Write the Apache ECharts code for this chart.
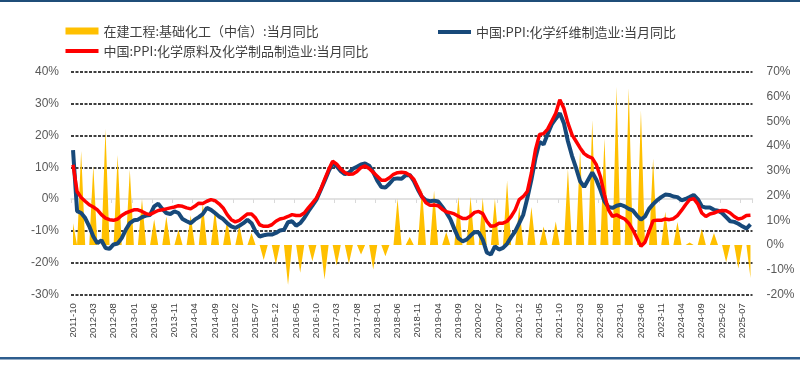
<!DOCTYPE html>
<html><head><meta charset="utf-8">
<script src="https://cdn.jsdelivr.net/npm/echarts@6/dist/echarts.min.js"></script>
<style>html,body{margin:0;padding:0;background:#fff}#c{width:800px;height:368px}</style>
</head><body><div id="c"></div>
<script>
// Monthly categories 2011-10 .. 2025-09
const months = [];
for (let k = 0; k < 168; k++) {
  const t = 2011 * 12 + 9 + k;
  months.push(Math.floor(t / 12) + '-' + String(t % 12 + 1).padStart(2, '0'));
}

// 在建工程:基础化工（中信）:当月同比 (right axis, %), reported quarterly
const capexDates = ['2011-10','2011-12',
  '2012-03','2012-06','2012-09','2012-12','2013-03','2013-06','2013-09','2013-12',
  '2014-03','2014-06','2014-09','2014-12','2015-03','2015-06','2015-09','2015-12',
  '2016-03','2016-06','2016-09','2016-12','2017-03','2017-06','2017-09','2017-12',
  '2018-03','2018-06','2018-09','2018-12','2019-03','2019-06','2019-09','2019-12',
  '2020-03','2020-06','2020-09','2020-12','2021-03','2021-06','2021-09','2021-12',
  '2022-03','2022-06','2022-09','2022-12','2023-03','2023-06','2023-09','2023-12',
  '2024-03','2024-06','2024-09','2024-12','2025-03','2025-06','2025-09'];
const capexYoY = [8.8, 38,
  32, 47, 36.4, 30.4, 18.7, 10.4, 11.5, 6.1,
  12, 17, 14.5, 10.2, 8, 4.8, -6.1, -7.8,
  -16.2, -11.3, -6.6, -14, -8.3, -7.6, -3.9, -10,
  -4.6, 18.7, 3.2, 23, 22, 5.2, 19.4, 19.4,
  19, 18.7, 26, 15.5, 15.3, 7.5, 9.5, 30.8,
  38.5, 50.6, 43.2, 64, 63.5, 54.5, 35, 13.4,
  9.3, 1, 6.4, 4.8, -7, -9.6, -13.4];

// 中国:PPI:化学纤维制造业:当月同比 (left axis, %)
const fiberPPI = [
  15.4, -3.8, -4.4, -6.0, -8.6, -11.8, -13.9, -13.0, -15.4, -15.7,
  -14.3, -14.0, -12.3, -9.7, -7.6, -6.7, -6.5, -5.7, -5.2, -5.0,
  -2.3, -1.5, -3.1, -4.4, -4.7, -3.9, -4.4, -6.3, -7.0, -7.6,
  -6.5, -5.7, -4.7, -2.8, -3.4, -4.4, -5.5, -6.3, -7.6, -8.6,
  -9.1, -8.4, -7.6, -6.5, -7.6, -10.2, -11.8, -11.4, -11.2, -11.2,
  -10.7, -9.9, -9.7, -7.3, -7.0, -8.4, -7.6, -6.0, -3.9, -2.1,
  -0.2, 2.7, 5.6, 8.7, 11.3, 10.3, 8.8, 7.8, 8.3, 9.5,
  10.2, 10.9, 11.2, 10.5, 8.5, 5.8, 3.8, 3.6, 4.8, 6.3,
  6.5, 6.4, 7.5, 7.6, 5.7, 3.0, 0.7, -0.4, -0.7, -0.5,
  -0.8, -2.4, -4.2, -6.3, -9.4, -12.3, -13.3, -12.8, -11.5, -10.4,
  -10.5, -12.8, -16.8, -17.5, -14.9, -15.9, -15.4, -14.1, -12.0, -10.2,
  -7.6, -4.9, 0.3, 6.1, 12.9, 18.0, 17.2, 20.5, 23.5, 25.3,
  27.0, 23.9, 18.2, 13.6, 9.8, 5.6, 3.8, 6.1, 8.4, 6.1,
  2.9, -0.7, -2.5, -2.8, -2.1, -1.8, -2.3, -3.1, -3.6, -5.2,
  -6.5, -5.5, -3.1, -1.6, -0.4, 0.6, 1.4, 1.3, 0.8, 0.6,
  -0.4, 0.0, 0.6, 1.3, 0.0, -2.3, -2.7, -2.7, -3.4, -3.7,
  -4.4, -5.7, -7.0, -7.2, -7.8, -8.6, -9.3, -8.0];

// 中国:PPI:化学原料及化学制品制造业:当月同比 (left axis, %)
const chemPPI = [
  10.8, 2.4, 0.5, -0.7, -1.8, -2.5, -3.4, -4.9, -6.0, -6.5,
  -6.7, -6.3, -5.2, -4.4, -3.9, -3.4, -3.4, -3.9, -4.6, -4.9,
  -4.2, -3.6, -3.4, -3.1, -2.8, -2.5, -2.1, -2.3, -2.8, -3.1,
  -2.3, -1.3, -1.4, -0.7, -0.2, -0.5, -1.5, -2.8, -4.9, -6.5,
  -7.2, -6.7, -5.7, -4.7, -4.7, -6.0, -8.1, -8.6, -8.6, -8.1,
  -7.0, -6.3, -6.0, -5.5, -4.9, -5.2, -5.2, -4.4, -2.8, -1.3,
  0.3, 2.9, 6.1, 9.2, 11.9, 11.0, 9.4, 8.3, 7.8, 7.9,
  8.7, 9.9, 10.4, 9.6, 8.4, 7.2, 5.9, 5.9, 6.7, 7.8,
  8.3, 8.4, 8.3, 7.5, 6.2, 3.6, 0.8, -1.2, -2.0, -1.9,
  -2.1, -3.2, -4.0, -4.3, -4.7, -5.4, -6.1, -6.1, -5.3, -4.2,
  -3.9, -4.6, -7.0, -8.6, -8.4, -7.6, -7.6, -7.0, -5.5, -3.4,
  -0.2, 0.8, 2.4, 8.2, 15.5, 20.3, 20.6, 22.0, 24.5, 27.0,
  31.3, 28.6, 23.9, 20.3, 18.2, 16.1, 14.3, 13.4, 12.9, 10.8,
  7.1, 1.4, -3.4, -5.5, -5.0, -5.7, -6.3, -7.6, -9.7, -12.3,
  -14.9, -13.6, -10.2, -6.8, -6.7, -6.7, -6.3, -6.5, -6.2, -5.2,
  -3.6, -1.8, -0.2, 0.1, -1.5, -4.4, -5.5, -4.7, -4.4, -3.9,
  -3.6, -3.7, -4.4, -5.5, -6.3, -6.0, -5.2, -5.1];

const leftTicks = { min: -30, max: 40, interval: 10 };
const rightTicks = { min: -20, max: 70, interval: 10 };

const NAME_CAPEX = '在建工程:基础化工（中信）:当月同比';
const NAME_FIBER = '中国:PPI:化学纤维制造业:当月同比';
const NAME_CHEM = '中国:PPI:化学原料及化学制品制造业:当月同比';

// Quarterly reports placed on their month, blank months treated as zero (Excel area style)
const capexMonthly = months.map(m => {
  const j = capexDates.indexOf(m);
  return j >= 0 ? capexYoY[j] : 0;
});

const chart = echarts.init(document.getElementById('c'), null, { renderer: 'canvas' });
const legendText = { fontSize: 13, color: '#404040', fontFamily: "'Noto Sans CJK SC', sans-serif" };
const axisFont = "'Liberation Sans', Arial, sans-serif";
chart.setOption({
  animation: false,
  backgroundColor: '#ffffff',
  grid: { left: 71, right: 47.5, top: 72, bottom: 73.7, containLabel: false },
  legend: [
    { data: [{ name: NAME_CAPEX, icon: 'rect' }], left: 65.5, top: 24.5, padding: 0, itemWidth: 33, itemHeight: 7, textStyle: legendText, selectedMode: false },
    { data: [{ name: NAME_FIBER, icon: 'rect' }], left: 438, top: 25.5, padding: 0, itemWidth: 33, itemHeight: 4, textStyle: legendText, selectedMode: false },
    { data: [{ name: NAME_CHEM, icon: 'rect' }], left: 65.5, top: 44.5, padding: 0, itemWidth: 33, itemHeight: 4, textStyle: legendText, selectedMode: false }
  ],
  xAxis: [
    { type: 'category', data: months, boundaryGap: true, position: 'bottom',
      axisLine: { show: false, onZero: false }, axisTick: { show: false },
      axisLabel: { interval: 4, rotate: 90, margin: 9, fontSize: 9.5, color: '#404040', fontFamily: axisFont },
      splitLine: { show: false } },
    { type: 'category', data: months, boundaryGap: true, position: 'bottom',
      axisLine: { show: true, onZero: true, onZeroAxisIndex: 0, lineStyle: { color: '#d9d9d9', width: 1.5 } },
      axisTick: { show: true, interval: 4, length: 4, lineStyle: { color: '#d9d9d9', width: 1 } },
      axisLabel: { show: false }, splitLine: { show: false } }
  ],
  yAxis: [
    { type: 'value', position: 'left', min: leftTicks.min, max: leftTicks.max, interval: leftTicks.interval,
      axisLine: { show: false }, axisTick: { show: false },
      axisLabel: { formatter: '{value}%', fontSize: 12, color: '#595959', margin: 12, fontFamily: axisFont },
      splitLine: { show: true, lineStyle: { type: [3, 1.5], width: 1.7,
        color: ['#000', '#000', '#000', 'rgba(0,0,0,0)', '#000', '#000', '#000', '#000'] } } },
    { type: 'value', position: 'right', min: rightTicks.min, max: rightTicks.max, interval: rightTicks.interval,
      axisLine: { show: false }, axisTick: { show: false },
      axisLabel: { formatter: '{value}%', fontSize: 12, color: '#595959', margin: 14, fontFamily: axisFont },
      splitLine: { show: false } }
  ],
  series: [
    { name: NAME_CAPEX, type: 'line', xAxisIndex: 0, yAxisIndex: 1, data: capexMonthly,
      symbol: 'none', lineStyle: { width: 0 }, areaStyle: { color: '#ffc000', opacity: 1 },
      itemStyle: { color: '#ffc000' }, z: 1 },
    { name: NAME_FIBER, type: 'line', xAxisIndex: 0, yAxisIndex: 0, data: fiberPPI,
      symbol: 'none', lineStyle: { width: 4, color: '#17497a' }, itemStyle: { color: '#17497a' }, z: 2 },
    { name: NAME_CHEM, type: 'line', xAxisIndex: 0, yAxisIndex: 0, data: chemPPI,
      symbol: 'none', lineStyle: { width: 3.5, color: '#ff0000' }, itemStyle: { color: '#ff0000' }, z: 3 }
  ],
  graphic: [
    { type: 'rect', shape: { x: 0, y: 0, width: 800, height: 2 }, style: { fill: '#1f4e79' }, silent: true },
    { type: 'rect', shape: { x: 0, y: 357, width: 800, height: 2.5 }, style: { fill: '#2e5d8e' }, silent: true }
  ]
});
</script></body></html>
